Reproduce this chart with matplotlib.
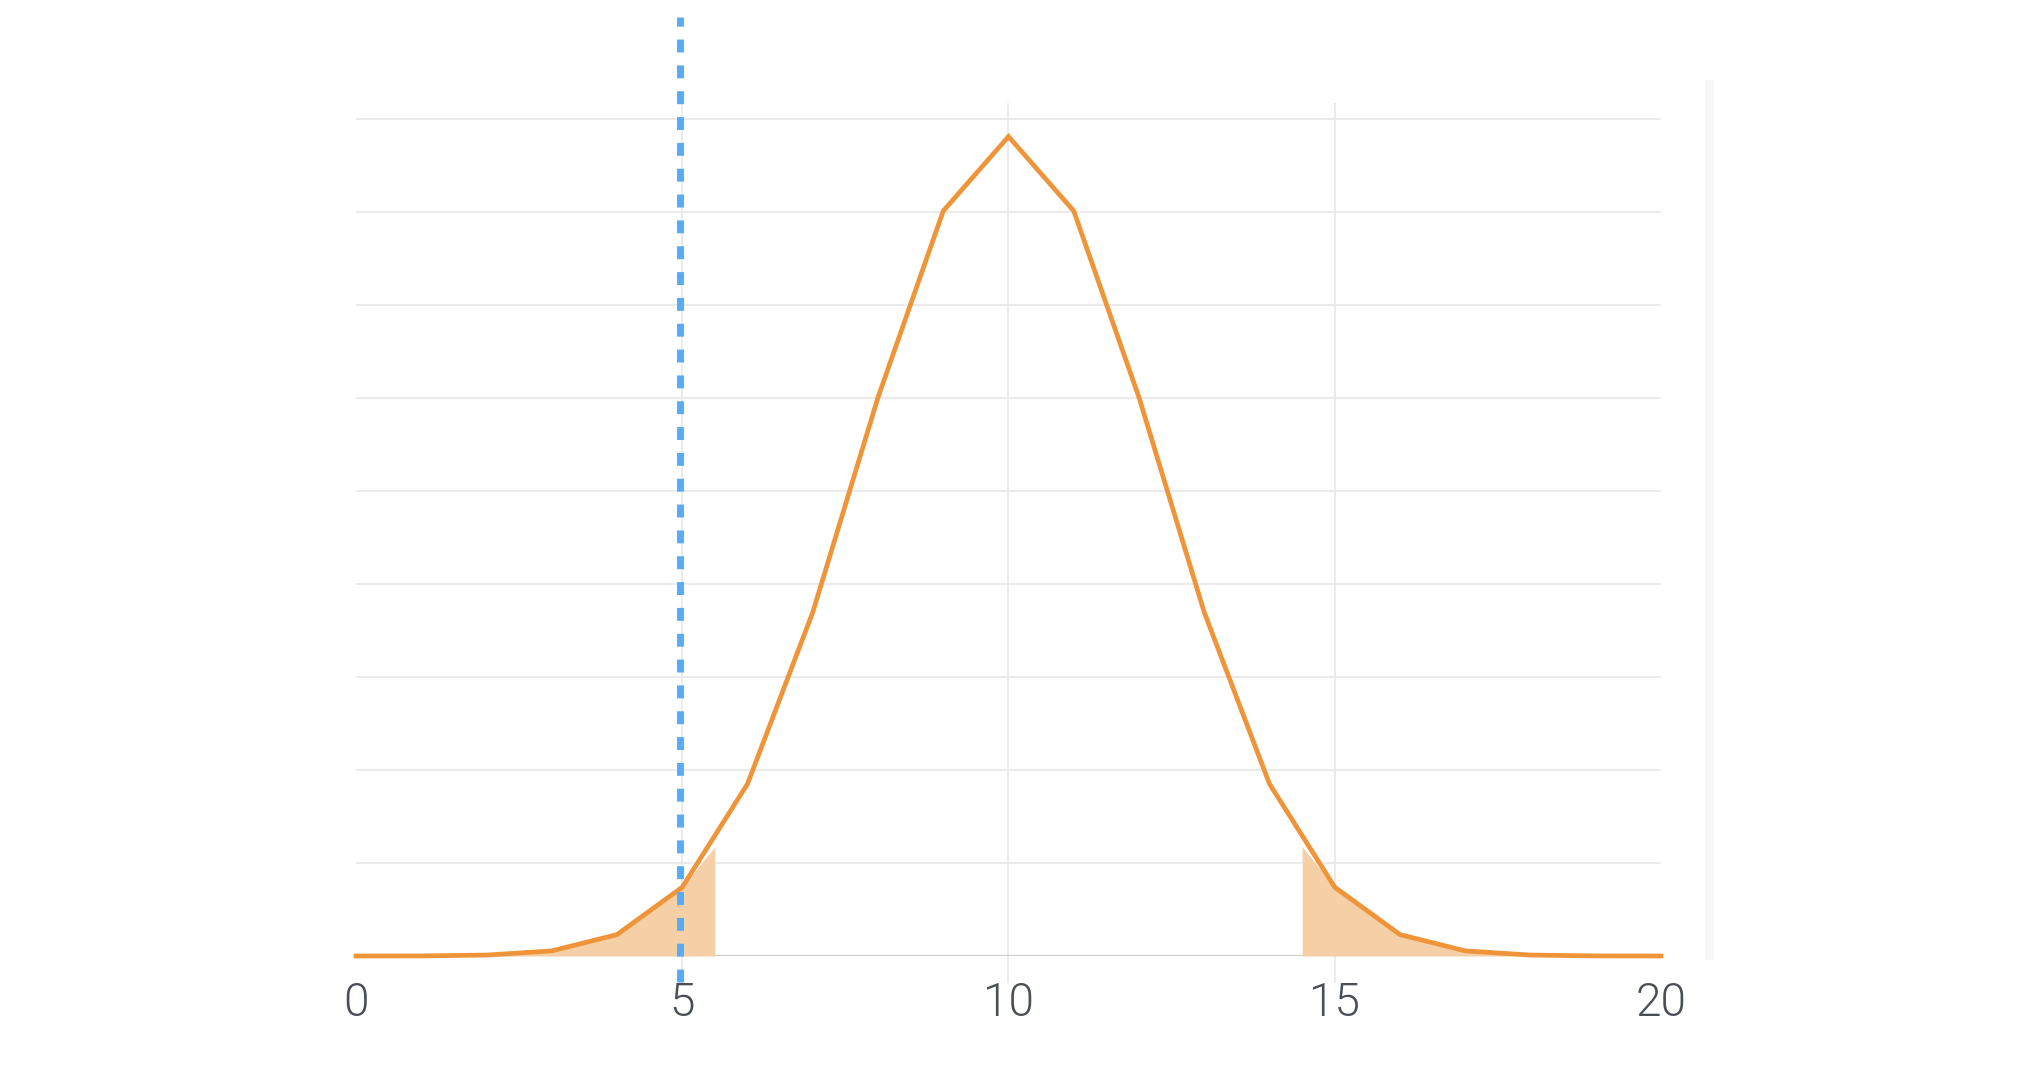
import matplotlib
matplotlib.use("Agg")
import matplotlib.pyplot as plt
import numpy as np

# Data
k_values = list(range(0, 21))
probabilities = [0.000001, 0.00002, 0.0002, 0.0011, 0.0046, 0.0148, 0.0370,
                 0.0739, 0.1201, 0.1602, 0.1762, 0.1602, 0.1201, 0.0739,
                 0.0370, 0.0148, 0.0046, 0.0011, 0.0002, 0.00002, 0.000001]
left_tail_x = [0, 1, 2, 3, 4, 5, 5.5]
left_tail_y = [0.000001, 0.00002, 0.0002, 0.0011, 0.0046, 0.0148, 0.0235]
right_tail_x = [14.5, 15, 16, 17, 18, 19, 20]
right_tail_y = [0.0235, 0.0148, 0.0046, 0.0011, 0.0002, 0.00002, 0.000001]
observed = 4.97
x_ticks = [0, 5, 10, 15, 20]
y_grid = [0.02 * i for i in range(10)]

W, H = 2040, 1074
fig = plt.figure(figsize=(W / 100, H / 100), dpi=100)
fig.patch.set_facecolor("white")
ax = fig.add_axes([356 / W, 1 - 956 / H, (1661 - 356) / W, (956 - 104) / H])
ax.set_xlim(0, 20)
ax.set_ylim(0, 0.1832)
for s in ax.spines.values():
    s.set_visible(False)
ax.set_yticks([])

# horizontal grid
for g in y_grid[1:]:
    ax.axhline(g, color="#E9E9E9", lw=1.3, zorder=0)
# vertical grid at inner ticks
for t in x_ticks[1:-1]:
    ax.axvline(t, ymin=-0.03, ymax=1.0, color="#E9E9E9", lw=1.3, zorder=0, clip_on=False)
# baseline
ax.axhline(0, color="#CFCFCF", lw=1.6, zorder=1)

# shaded tails
ax.fill_between(left_tail_x, left_tail_y, 0, color="#F5CFA6", lw=0, zorder=2)
ax.fill_between(right_tail_x, right_tail_y, 0, color="#F5CFA6", lw=0, zorder=2)

# distribution line
ax.plot(k_values, probabilities, color="#EF9438", lw=3.4, zorder=3,
        solid_joinstyle="miter", clip_on=False)

# observed dashed line
vl = ax.axvline(observed, ymin=-0.0305, ymax=1.102, color="#5AABF6", lw=5.0,
                zorder=4, clip_on=False)
vl.set_dashes((1.86, 1.86))

# ticks
ax.set_xticks(x_ticks)
ax.set_xticklabels([str(t) for t in x_ticks])
ax.tick_params(axis="x", length=0, pad=18, labelsize=33, labelcolor="#4A4F56")
for lab in ax.get_xticklabels():
    lab.set_family(["Roboto", "DejaVu Sans"])
    lab.set_fontweight(300)

# faint right band
fig.patches.append(plt.Rectangle((1705 / W, 1 - 960 / H), 9 / W, (960 - 80) / H,
                                 transform=fig.transFigure, color="#F7F7F7",
                                 lw=0, zorder=0))

fig.savefig("out.png", dpi=100, facecolor="white")
